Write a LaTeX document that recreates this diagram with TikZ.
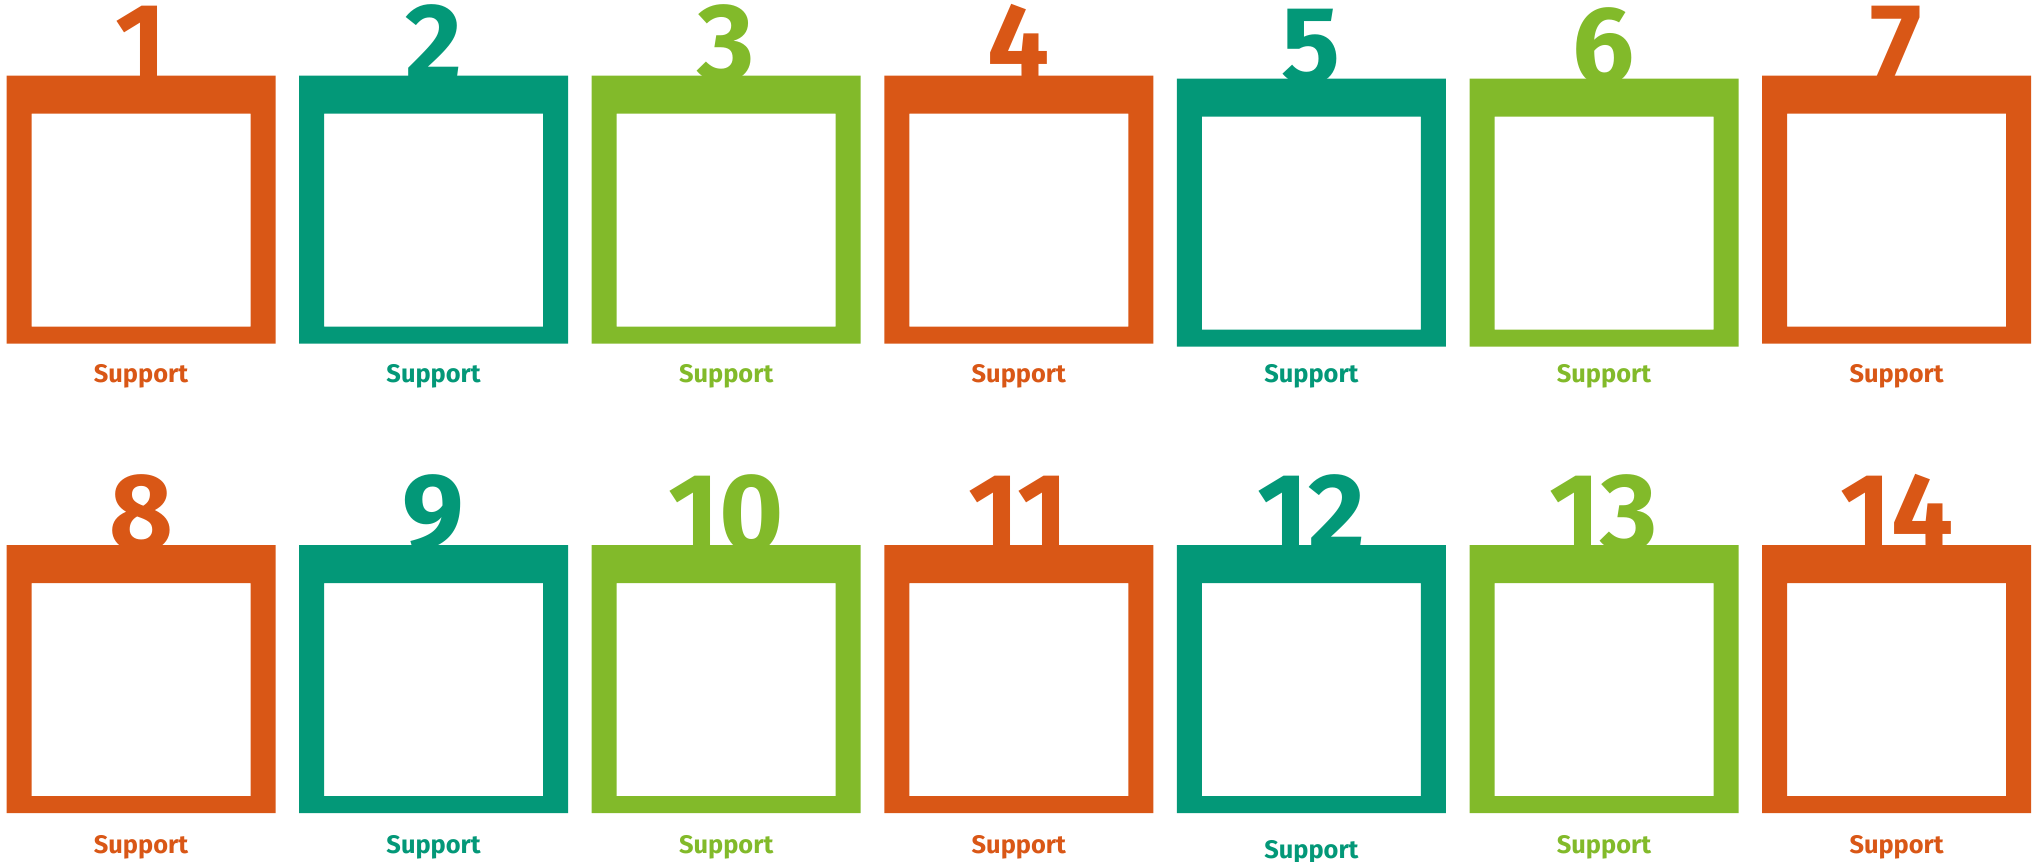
\documentclass[tikz,border=0pt]{standalone}
\usepackage{fontspec}
\setmainfont{Fira Sans}
\usepackage{tikz}
\definecolor{burnt}{RGB}{217, 87, 22}
\definecolor{jade}{RGB}{3, 152, 120}
\definecolor{leaf}{RGB}{130, 186, 42}
\tikzset{
  num/.style={font=\fontsize{55}{55}\selectfont\bfseries, inner sep=0pt, anchor=base},
  lab/.style={font=\fontsize{12.7}{14}\selectfont\bfseries, inner sep=0pt}
}

\begin{document}
\begin{tikzpicture}[x=0.5pt, y=-0.5pt]
  \useasboundingbox (0,0) rectangle (2040,862);

  % number, frame and caption per slot: n / column / colour / row / frame shift / caption shift
  \foreach \n/\c/\col/\row/\dy/\ly in {
      1/0/burnt/0/0/0, 2/1/jade/0/0/0, 3/2/leaf/0/0/0, 4/3/burnt/0/0/0,
      5/4/jade/0/3/0, 6/5/leaf/0/3/0, 7/6/burnt/0/0/0,
      8/0/burnt/1/0/0, 9/1/jade/1/0/0, 10/2/leaf/1/0/0, 11/3/burnt/1/0/0,
      12/4/jade/1/0/5, 13/5/leaf/1/0/0, 14/6/burnt/1/0/0} {
    \pgfmathsetmacro{\xl}{6.5+292.6*\c}
    \pgfmathsetmacro{\yt}{75.5+469.5*\row+\dy}
    \pgfmathsetmacro{\xm}{\xl+134.5}
    \node[num, text=\col] (num\n) at (\xm,\yt+5) {\n};
    \fill[\col, even odd rule] (\xl,\yt) rectangle ++(269,268)
      (\xl+25,\yt+38) rectangle (\xl+244,\yt+251);
    \node[lab, text=\col] (lab\n) at (\xm,376+471*\row+\ly) {Support};
  }
\end{tikzpicture}
\end{document}
